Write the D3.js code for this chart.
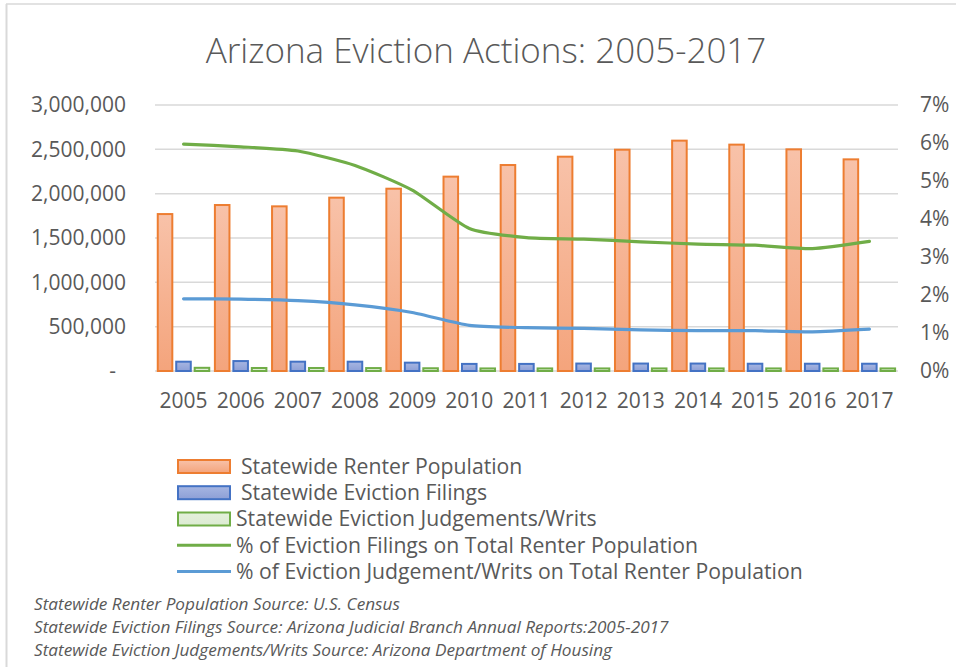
<!DOCTYPE html>
<html>
<head>
<meta charset="utf-8">
<script src="https://cdn.jsdelivr.net/npm/d3@7"></script>
<style>
  body { margin: 0; background: #fff; }
  svg { font-family: "Open Sans", sans-serif; }
</style>
</head>
<body>
<svg width="956" height="667"></svg>
<script>
var years = ["2005", "2006", "2007", "2008", "2009", "2010", "2011", "2012", "2013", "2014", "2015", "2016", "2017"];

var renters = [1770000, 1872000, 1857000, 1955000, 2056000, 2192000, 2323000, 2417000, 2496000, 2598000, 2553000, 2500000, 2387000];
var filings = [105000, 112000, 105000, 105000, 94000, 80000, 80000, 84000, 84000, 84000, 82000, 82000, 82000];
var writs = [36000, 34000, 34000, 33000, 31000, 29000, 29000, 29000, 29000, 29000, 29000, 29000, 29000];

var pctFilings = [5.97, 5.9, 5.79, 5.41, 4.76, 3.75, 3.51, 3.47, 3.40, 3.34, 3.31, 3.22, 3.41];
var pctWrits = [1.90, 1.89, 1.85, 1.74, 1.54, 1.20, 1.14, 1.12, 1.08, 1.06, 1.06, 1.03, 1.10];

var leftTicks = [0, 500000, 1000000, 1500000, 2000000, 2500000, 3000000];
var rightTicks = [0, 1, 2, 3, 4, 5, 6, 7];

var barSeries = [
  { key: "renters", name: "Statewide Renter Population", values: renters, id: "gOrange", stroke: "#ed7d31" },
  { key: "filings", name: "Statewide Eviction Filings", values: filings, id: "gBlue", stroke: "#4472c4" },
  { key: "writs", name: "Statewide Eviction Judgements/Writs", values: writs, id: "gGreen", stroke: "#70ad47" }
];
var lineSeries = [
  { name: "% of Eviction Filings on Total Renter Population", values: pctFilings, color: "#70ad47" },
  { name: "% of Eviction Judgement/Writs on Total Renter Population", values: pctWrits, color: "#5b9bd5" }
];
var sources = [
  "Statewide Renter Population Source: U.S. Census",
  "Statewide Eviction Filings Source: Arizona Judicial Branch Annual Reports:2005-2017",
  "Statewide Eviction Judgements/Writs Source: Arizona Department of Housing"
];

var svg = d3.select("svg");
var textColor = "#595959";

// gradients for the bar fills
var defs = svg.append("defs");
function grad(id, top, bottom) {
  var g = defs.append("linearGradient").attr("id", id)
    .attr("x1", 0).attr("y1", 0).attr("x2", 0).attr("y2", 1);
  g.append("stop").attr("offset", "0%").attr("stop-color", top);
  g.append("stop").attr("offset", "100%").attr("stop-color", bottom);
}
grad("gOrange", "#f8c2a9", "#f4a47c");
grad("gBlue", "#a7b6e2", "#8d9fd6");
grad("gGreen", "#e4f0dc", "#dcebd2");

// chart border (top and left visible)
svg.append("line").attr("x1", 6).attr("x2", 956).attr("y1", 4).attr("y2", 4)
  .attr("stroke", "#d9d9d9").attr("stroke-width", 1.5);
svg.append("line").attr("x1", 6.5).attr("x2", 6.5).attr("y1", 4).attr("y2", 667)
  .attr("stroke", "#d9d9d9").attr("stroke-width", 2);

svg.append("text")
  .attr("x", 486).attr("y", 63)
  .attr("text-anchor", "middle")
  .attr("font-size", 35).attr("font-weight", 300)
  .attr("fill", textColor)
  .text("Arizona Eviction Actions: 2005-2017");

var x = d3.scaleBand().domain(years).range([155, 898]).padding(0);
var xInner = d3.scaleBand().domain(barSeries.map(function (d) { return d.key; }))
  .range([2, 55]).paddingInner(0.13).paddingOuter(0);
var y = d3.scaleLinear().domain([0, 3000000]).range([371, 105]);
var y2 = d3.scaleLinear().domain([0, 7]).range([371, 105]);

// gridlines
svg.append("g").selectAll("line").data(leftTicks).enter().append("line")
  .attr("x1", 155).attr("x2", 898)
  .attr("y1", function (d) { return y(d); })
  .attr("y2", function (d) { return y(d); })
  .attr("stroke", "#d9d9d9").attr("stroke-width", 1.5);

// left axis
var leftAxis = svg.append("g")
  .attr("transform", "translate(126,0)")
  .call(d3.axisLeft(y).tickValues(leftTicks).tickSize(0).tickPadding(0)
    .tickFormat(function (d) { return d === 0 ? "-" : d3.format(",")(d); }));
leftAxis.select(".domain").remove();
leftAxis.selectAll("text").attr("font-size", 21).attr("fill", textColor)
  .attr("font-family", "Open Sans").attr("dx", function (d) { return d === 0 ? -10 : 0; });

// right axis
var rightAxis = svg.append("g")
  .attr("transform", "translate(920,0)")
  .call(d3.axisRight(y2).tickValues(rightTicks).tickSize(0).tickPadding(0)
    .tickFormat(function (d) { return d + "%"; }));
rightAxis.select(".domain").remove();
rightAxis.selectAll("text").attr("font-size", 21).attr("fill", textColor).attr("font-family", "Open Sans");

// bottom axis
var bottomAxis = svg.append("g")
  .attr("transform", "translate(0,393)")
  .call(d3.axisBottom(x).tickSize(0).tickPadding(0));
bottomAxis.select(".domain").remove();
bottomAxis.selectAll("text").attr("font-size", 21).attr("fill", textColor).attr("font-family", "Open Sans");

// bars
var groups = svg.append("g").selectAll("g").data(years).enter().append("g")
  .attr("transform", function (d) { return "translate(" + x(d) + ",0)"; });

groups.selectAll("rect")
  .data(function (yr, i) {
    return barSeries.map(function (s) { return { s: s, v: s.values[i] }; });
  })
  .enter().append("rect")
  .attr("x", function (d) { return xInner(d.s.key) + 0.75; })
  .attr("width", xInner.bandwidth() - 1.5)
  .attr("y", function (d) { return y(d.v); })
  .attr("height", function (d) { return y(0) - y(d.v); })
  .attr("fill", function (d) { return "url(#" + d.s.id + ")"; })
  .attr("stroke", function (d) { return d.s.stroke; })
  .attr("stroke-width", 2);

// lines
var line = d3.line()
  .x(function (d, i) { return x(years[i]) + x.bandwidth() / 2; })
  .y(function (d) { return y2(d); })
  .curve(d3.curveCardinal.tension(0.4));

svg.append("g").selectAll("path").data(lineSeries).enter().append("path")
  .attr("d", function (d) { return line(d.values); })
  .attr("fill", "none")
  .attr("stroke", function (d) { return d.color; })
  .attr("stroke-width", 3.2)
  .attr("stroke-linecap", "round");

// legend
var legend = svg.append("g");
var rowY = [466.5, 492.7, 519, 545.3, 571.6];
barSeries.forEach(function (s, i) {
  legend.append("rect")
    .attr("x", 178).attr("y", rowY[i] - 6.5).attr("width", 52).attr("height", 13)
    .attr("fill", "url(#" + s.id + ")").attr("stroke", s.stroke).attr("stroke-width", 2);
  legend.append("text")
    .attr("x", i < 2 ? 241 : 236).attr("y", rowY[i]).attr("dy", "0.35em")
    .attr("font-size", 21.2).attr("fill", textColor)
    .text(s.name);
});
lineSeries.forEach(function (s, j) {
  var i = j + 3;
  legend.append("line")
    .attr("x1", 177).attr("x2", 231).attr("y1", rowY[i]).attr("y2", rowY[i])
    .attr("stroke", s.color).attr("stroke-width", 3);
  legend.append("text")
    .attr("x", 236).attr("y", rowY[i]).attr("dy", "0.35em")
    .attr("font-size", 21.2).attr("fill", textColor)
    .text(s.name);
});

// source notes
svg.append("g").selectAll("text").data(sources).enter().append("text")
  .attr("x", 34)
  .attr("y", function (d, i) { return 604 + i * 23; })
  .attr("dy", "0.35em")
  .attr("font-size", 17.2).attr("font-style", "italic")
  .attr("fill", textColor)
  .text(function (d) { return d; });
</script>
</body>
</html>
